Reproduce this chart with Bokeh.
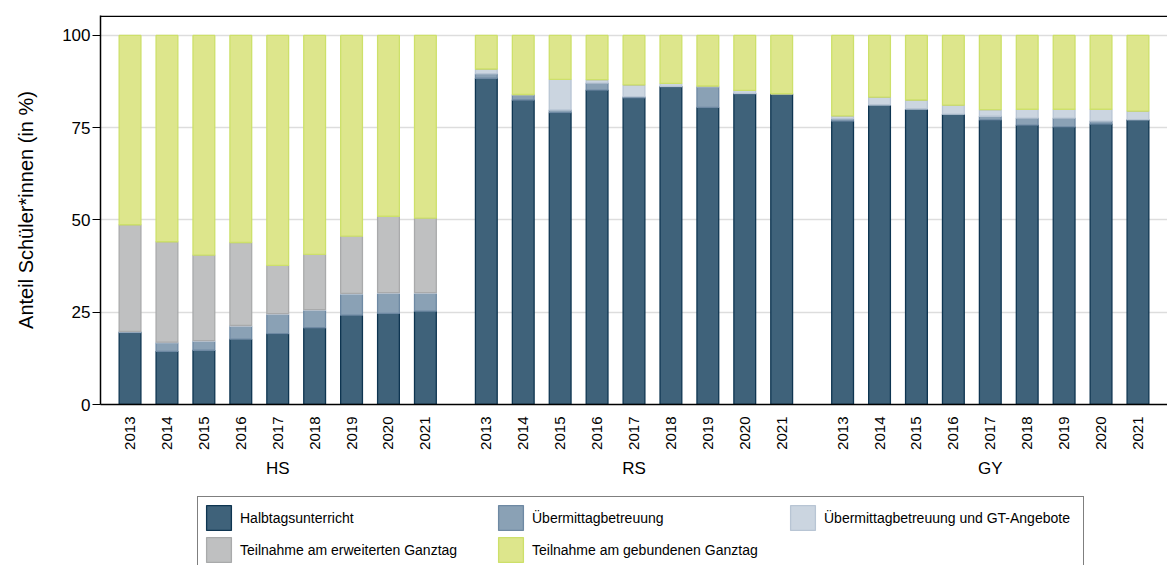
import math
from bokeh.plotting import figure
from bokeh.layouts import column
from bokeh.models import (ColumnDataSource, FactorRange, Range1d, Legend, LegendItem,
                          Span, FixedTicker)
from bokeh.embed import file_html
from bokeh.resources import INLINE

# ---------------- data ----------------
groups = ["HS", "RS", "GY"]
years = ["2013", "2014", "2015", "2016", "2017", "2018", "2019", "2020", "2021"]

series_labels = ["Halbtagsunterricht", "Übermittagbetreuung",
                 "Übermittagbetreuung und GT-Angebote",
                 "Teilnahme am erweiterten Ganztag", "Teilnahme am gebundenen Ganztag"]

halbtags_hs = [19.5, 14.4, 14.7, 17.7, 19.2, 20.8, 24.2, 24.7, 25.3]
uebermittag_hs = [0.2, 2.3, 2.4, 3.5, 5.2, 4.7, 5.7, 5.4, 4.8]
gt_angebote_hs = [0.1, 0.2, 0.2, 0.2, 0.2, 0.2, 0.2, 0.2, 0.2]
erweitert_hs = [28.9, 27.2, 23.2, 22.5, 13.1, 15.0, 15.5, 20.7, 20.2]
gebunden_hs = [51.3, 55.9, 59.5, 56.1, 62.3, 59.3, 54.4, 49.0, 49.5]

halbtags_rs = [88.4, 82.5, 79.1, 85.2, 83.1, 86.1, 80.5, 84.2, 84.2]
uebermittag_rs = [1.2, 1.4, 0.7, 1.9, 0.3, 0.1, 5.6, 0.1, 0.0]
gt_angebote_rs = [1.3, 0.1, 8.3, 0.9, 3.2, 0.8, 0.2, 0.8, 0.0]
erweitert_rs = [0.0, 0.0, 0.0, 0.0, 0.0, 0.0, 0.0, 0.0, 0.0]
gebunden_rs = [9.1, 16.0, 11.9, 12.0, 13.4, 13.0, 13.7, 14.9, 15.8]

halbtags_gy = [76.8, 81.1, 80.0, 78.6, 77.1, 75.7, 75.2, 76.0, 77.1]
uebermittag_gy = [0.6, 0.1, 0.1, 0.1, 1.0, 1.9, 2.4, 0.8, 0.1]
gt_angebote_gy = [0.8, 2.1, 2.4, 2.4, 1.8, 2.4, 2.4, 3.2, 2.3]
erweitert_gy = [0.0, 0.0, 0.0, 0.0, 0.0, 0.0, 0.0, 0.0, 0.0]
gebunden_gy = [21.8, 16.7, 17.5, 18.9, 20.1, 20.0, 20.0, 20.0, 20.5]

# ---------------- styles ----------------
fill_colors = ["#3f627a", "#8aa1b5", "#cbd5e0", "#bfc0c1", "#dde68c"]
line_colors = ["#0e3551", "#6e89a3", "#b8c5d4", "#a9aaab", "#cde06a"]
FONT = "Liberation Sans"
W = 1167

x = [(g, y) for g in groups for y in years]
keys = ["halbtags", "uebermittag", "gt", "erweitert", "gebunden"]
src = ColumnDataSource(data=dict(
    x=x,
    halbtags=halbtags_hs + halbtags_rs + halbtags_gy,
    uebermittag=uebermittag_hs + uebermittag_rs + uebermittag_gy,
    gt=gt_angebote_hs + gt_angebote_rs + gt_angebote_gy,
    erweitert=erweitert_hs + erweitert_rs + erweitert_gy,
    gebunden=gebunden_hs + gebunden_rs + gebunden_gy,
))

xrange = FactorRange(*x, group_padding=0.65, range_padding=0.3,
                     range_padding_units="absolute")

p = figure(x_range=xrange, y_range=Range1d(0, 105.4),
           width=W, height=488, output_backend="svg", toolbar_location=None,
           min_border_left=100, min_border_top=15, min_border_right=0,
           min_border_bottom=84)
p.outline_line_color = None
p.background_fill_color = "white"
p.border_fill_color = "white"

p.vbar_stack(keys, x="x", width=0.59, source=src,
             fill_color=fill_colors, line_color=line_colors, line_width=1.3)

p.add_layout(Span(location=105.2, dimension="width", line_color="black", line_width=1.5))

# grid
p.xgrid.grid_line_color = None
p.ygrid.ticker = FixedTicker(ticks=[25, 50, 75, 100])
p.ygrid.grid_line_color = "#dddddd"
p.ygrid.grid_line_width = 1.5

# y axis
yax = p.yaxis[0]
yax.ticker = FixedTicker(ticks=[0, 25, 50, 75, 100])
yax.axis_label = "Anteil Schüler*innen (in %)"
yax.axis_label_text_font = FONT
yax.axis_label_text_font_size = "20px"
yax.axis_label_text_font_style = "normal"
yax.axis_label_text_color = "black"
yax.axis_label_standoff = 22
yax.major_label_text_font = FONT
yax.major_label_text_font_size = "17px"
yax.major_label_text_color = "black"
yax.major_label_standoff = 2
yax.major_tick_out = 8
yax.major_tick_in = 0
yax.minor_tick_line_color = None
yax.axis_line_color = "black"
yax.axis_line_width = 1.5
yax.major_tick_line_color = "black"
yax.major_tick_line_width = 1.2

# x axis
xax = p.xaxis[0]
xax.major_tick_line_color = None
xax.minor_tick_line_color = None
xax.axis_line_color = "black"
xax.axis_line_width = 1.5
xax.major_label_orientation = math.pi / 2
xax.major_label_text_font = FONT
xax.major_label_text_font_size = "15px"
xax.major_label_text_color = "black"
xax.major_label_standoff = 6
xax.group_label_orientation = "horizontal"
xax.group_text_font = FONT
xax.group_text_font_size = "17px"
xax.group_text_font_style = "normal"
xax.group_text_color = "black"
xax.separator_line_color = None

# ---------------- legend strip below the chart ----------------
# legend-only renderers: one undefined (NaN) point each, so nothing is drawn but the swatches
pl = figure(width=W, height=77, x_range=Range1d(0, 1), y_range=Range1d(0, 1),
            output_backend="svg", toolbar_location=None,
            x_axis_location=None, y_axis_location=None, min_border=0)
pl.outline_line_color = None
pl.grid.visible = False
nan = float("nan")
legend_renderers = [pl.vbar(x=[nan], top=[nan], bottom=[nan], width=0.5,
                            fill_color=fc, line_color=lc, line_width=1.3)
                    for fc, lc in zip(fill_colors, line_colors)]
items = [LegendItem(label=lab, renderers=[r]) for lab, r in zip(series_labels, legend_renderers)]
legend = Legend(items=items, orientation="horizontal", ncols=3, location=(97, -6),
                glyph_width=31, glyph_height=31, label_standoff=6, spacing=1,
                padding=5, margin=0, label_width=254,
                label_text_font=FONT, label_text_font_size="14px", label_text_color="black",
                label_text_baseline="middle",
                border_line_color="black", border_line_width=1.2,
                background_fill_color="white")
pl.add_layout(legend, "center")

layout = column(p, pl, spacing=0)
open("out.html", "w").write(file_html(layout, INLINE))
